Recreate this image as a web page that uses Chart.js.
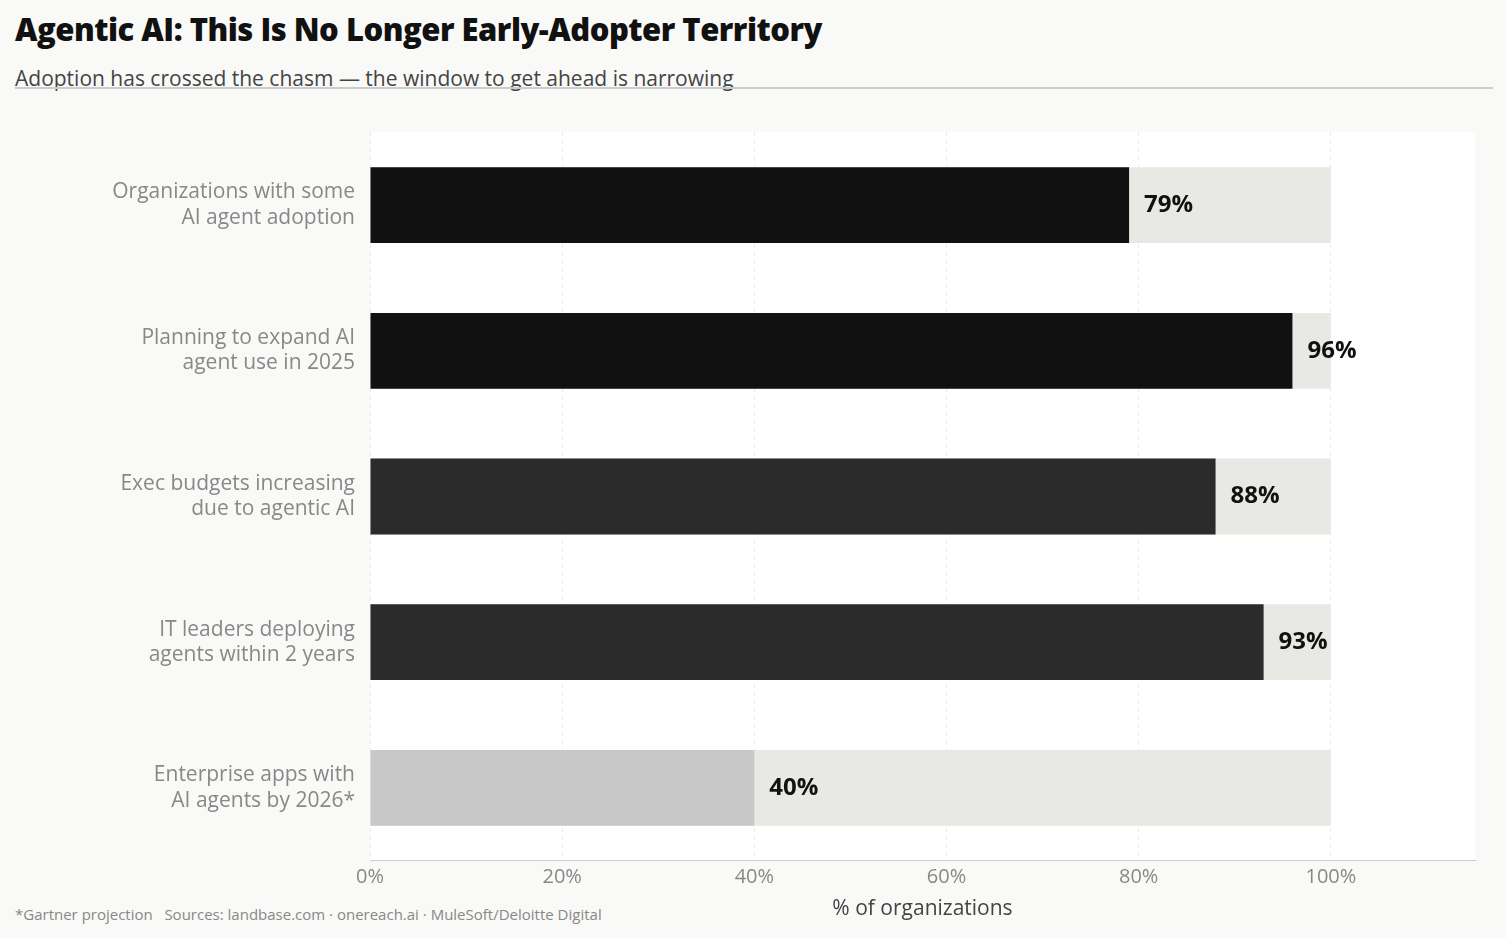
<!DOCTYPE html>
<html><head><meta charset="utf-8">
<script src="https://cdn.jsdelivr.net/npm/chart.js@4"></script>
<style>
body{margin:0;background:#f9f9f7;font-family:"Open Sans",sans-serif;width:1506px;height:938px;overflow:hidden;position:relative}
#t{position:absolute;left:15px;top:8px;font-size:31px;font-weight:800;color:#111;letter-spacing:-0.5px}
#s{position:absolute;left:15px;top:64px;font-size:21px;color:#444}
#ln{position:absolute;left:15px;top:87px;width:1478px;height:2px;background:#ccc}
#f{position:absolute;left:15px;top:904px;font-size:15px;color:#888}
#c{position:absolute;left:0;top:100px}
</style></head><body>
<div id="t">Agentic AI: This Is No Longer Early-Adopter Territory</div>
<div id="s">Adoption has crossed the chasm — the window to get ahead is narrowing</div>
<div id="ln"></div>
<div id="f">*Gartner projection &nbsp; Sources: landbase.com · onereach.ai · MuleSoft/Deloitte Digital</div>
<div id="c"><canvas id="cv" width="1506" height="826"></canvas></div>
<script>
const categories=[["Organizations with some","AI agent adoption"],["Planning to expand AI","agent use in 2025"],["Exec budgets increasing","due to agentic AI"],["IT leaders deploying","agents within 2 years"],["Enterprise apps with","AI agents by 2026*"]];
const values=[79,96,88,93,40];
const track=[100,100,100,100,100];
const barColors=["#111111","#111111","#2b2b2b","#2b2b2b","#c8c8c8"];
const xTicks=[0,20,40,60,80,100];
const bg={id:'bg',beforeDraw(c){const a=c.chartArea,x=c.ctx;x.save();x.fillStyle='#fff';x.fillRect(a.left,a.top,a.right-a.left,a.bottom-a.top);x.restore();}};
const lbl={id:'lbl',afterDatasetsDraw(c){const m=c.getDatasetMeta(1),x=c.ctx;x.save();x.font='bold 24px "Open Sans"';x.fillStyle='#111';x.textBaseline='middle';m.data.forEach((b,i)=>{x.fillText(values[i]+'%',b.x+15,b.y);});x.restore();}};
new Chart(document.getElementById('cv'),{type:'bar',
data:{labels:categories,datasets:[
{data:track,backgroundColor:'#e8e8e4',grouped:false,order:2,barPercentage:1,categoryPercentage:0.52},
{data:values,backgroundColor:barColors,grouped:false,order:1,barPercentage:1,categoryPercentage:0.52}]},
options:{indexAxis:'y',responsive:false,animation:false,
layout:{padding:{left:0,right:31,top:22,bottom:0}},
plugins:{legend:{display:false},tooltip:{enabled:false}},
scales:{x:{min:0,max:115,afterBuildTicks(a){a.ticks=xTicks.map(v=>({value:v}));},
ticks:{callback:v=>v+'%',color:'#888',font:{size:20,family:'"Open Sans"'},padding:4},
grid:{color:'#ebebeb',drawTicks:false,tickLength:0},border:{color:'#ccc',dash:[4,4],display:true},
title:{display:true,text:'% of organizations',color:'#444',font:{size:21,family:'"Open Sans"'},padding:{top:4}}},
y:{afterFit(a){a.width=370;},ticks:{color:'#888',font:{size:21,family:'"Open Sans"'},padding:7},grid:{display:false},border:{display:false}}}},
plugins:[bg,lbl]});
</script></body></html>
